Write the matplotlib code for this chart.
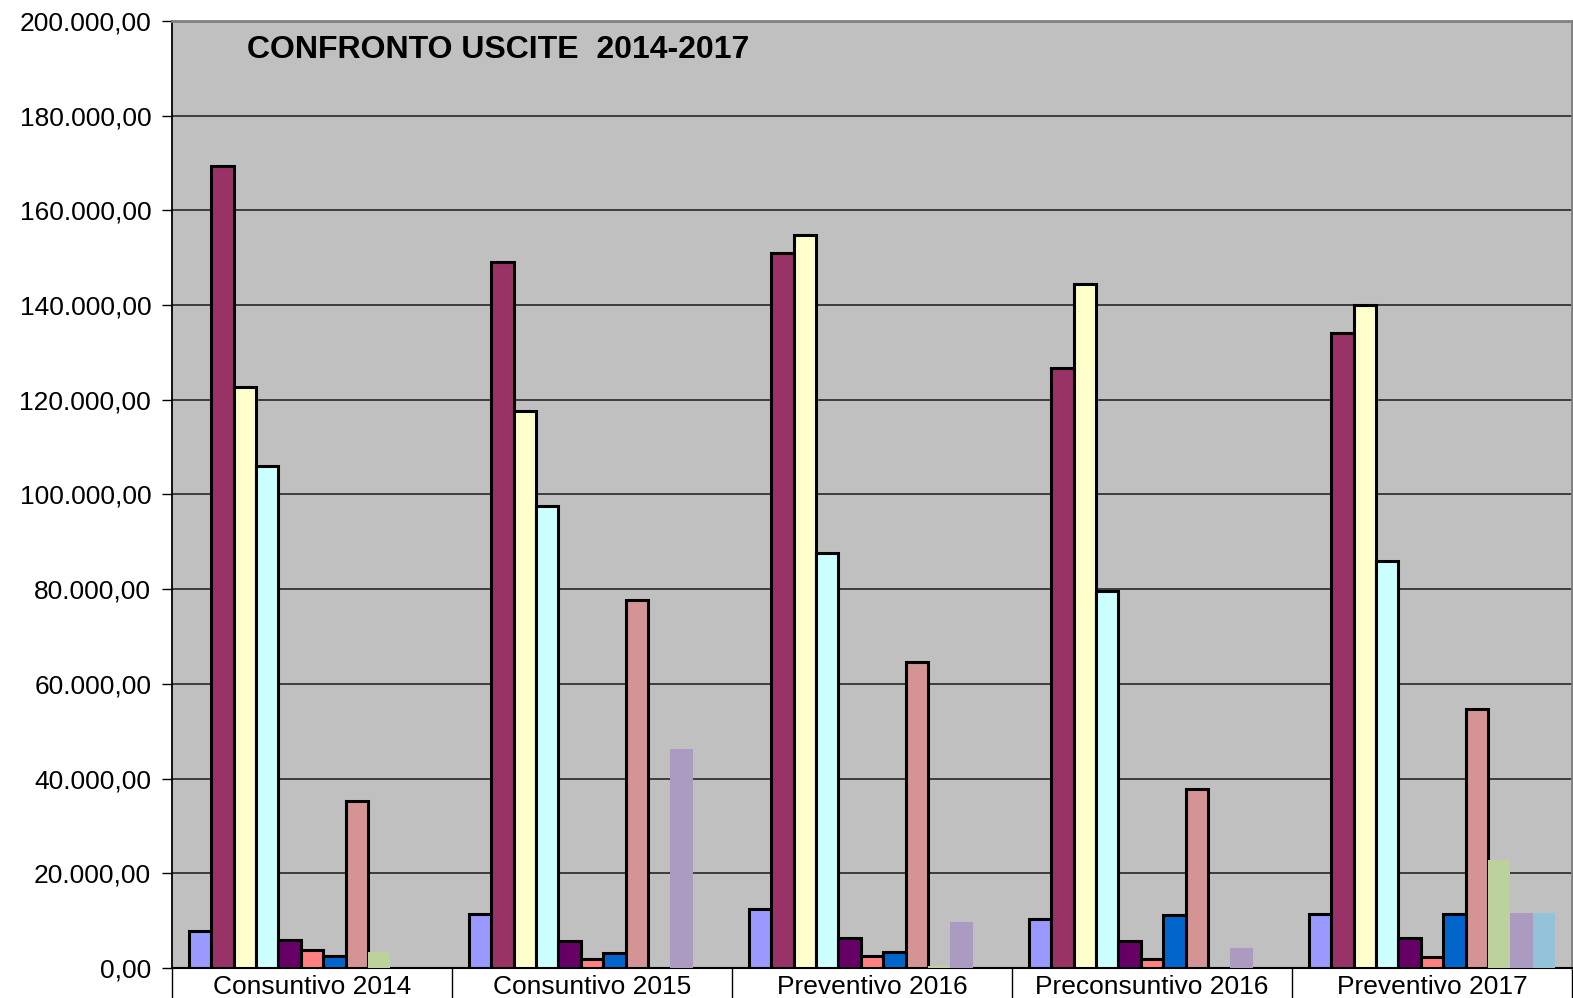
""" CONFRONTO USCITE 2014-2017 - grouped bar chart """

# imports
import numpy as np
import matplotlib
matplotlib.use('Agg')
import matplotlib.pyplot as plt
from matplotlib.ticker import FuncFormatter, FixedLocator

# categories (x axis)
categorie = ['Consuntivo 2014', 'Consuntivo 2015', 'Preventivo 2016',
             'Preconsuntivo 2016', 'Preventivo 2017']

# series values, one list per voce di spesa
serie_01 = [7800, 11300, 12500, 10400, 11400]
serie_02 = [169300, 149200, 151000, 126700, 134100]
serie_03 = [122700, 117600, 154900, 144500, 140000]
serie_04 = [106100, 97500, 87700, 79700, 86000]
serie_05 = [6000, 5600, 6400, 5800, 6400]
serie_06 = [3700, 1800, 2500, 1800, 2300]
serie_07 = [2600, 3200, 3400, 11100, 11400]
serie_08 = [35200, 77800, 64600, 37800, 54600]
serie_09 = [3300, 0, 500, 0, 22800]
serie_10 = [0, 46200, 9800, 4200, 11700]
serie_11 = [0, 0, 0, 0, 11700]

serie = [serie_01, serie_02, serie_03, serie_04, serie_05, serie_06,
         serie_07, serie_08, serie_09, serie_10, serie_11]

# styles
colori = ['#9999FF', '#993366', '#FFFFCC', '#CCFFFF', '#660066', '#FF8080',
          '#0066CC', '#D49494', '#BCD19B', '#AB9BC1', '#93C3D8']
bordo = [True] * 8 + [False] * 3

plt.rcParams['font.family'] = ['Liberation Sans', 'DejaVu Sans']

# figure settings
fig = plt.figure(figsize=(15.73, 9.98), dpi=100)
ax = fig.add_axes([172 / 1573, 30 / 998, 1400 / 1573, 947 / 998])
ax.set_facecolor('#C0C0C0')

# bars
n = len(serie)
w = 1 / 12.5
x = np.arange(len(categorie))
for i, vals in enumerate(serie):
    pos = x - n * w / 2 + w * (i + 0.5)
    if bordo[i]:
        ax.bar(pos, vals, width=w, color=colori[i], edgecolor='black',
               linewidth=2.2, zorder=3)
    else:
        ax.bar(pos, vals, width=w, color=colori[i], linewidth=0, zorder=3)

# y axis
ax.set_ylim(0, 200000)
ax.set_yticks(np.arange(0, 200001, 20000))
ax.yaxis.set_major_formatter(FuncFormatter(
    lambda v, p: f'{v:,.2f}'.replace(',', 'X').replace('.', ',').replace('X', '.')))
ax.tick_params(axis='y', labelsize=19, length=7, width=1, pad=8, color='black')
ax.yaxis.grid(True, color='#333333', linewidth=1.3, zorder=1)

# x axis
ax.set_xlim(-0.5, len(categorie) - 0.5)
ax.xaxis.set_major_locator(FixedLocator(np.arange(-0.5, len(categorie))))
ax.xaxis.set_minor_locator(FixedLocator(x))
ax.set_xticklabels([], minor=False)
ax.set_xticklabels(categorie, minor=True)
ax.tick_params(axis='x', which='major', length=24, width=1, color='black')
ax.tick_params(axis='x', which='minor', length=0, labelsize=19, pad=5)

# spines
ax.spines['left'].set_color('black')
ax.spines['left'].set_linewidth(1.3)
ax.spines['bottom'].set_color('black')
ax.spines['bottom'].set_linewidth(1.5)
ax.spines['top'].set_color('#808080')
ax.spines['top'].set_linewidth(2)
ax.spines['right'].set_color('#808080')
ax.spines['right'].set_linewidth(2)

# title
ax.text(0.0536, 0.985, 'CONFRONTO USCITE  2014-2017',
        transform=ax.transAxes, fontsize=23, fontweight='bold',
        ha='left', va='top', zorder=5)

plt.savefig('out.png', dpi=100)
